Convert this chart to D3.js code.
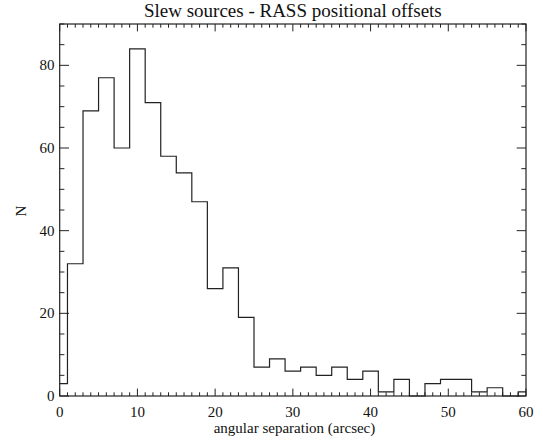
<!DOCTYPE html>
<html>
<head>
<meta charset="utf-8">
<script src="https://cdn.jsdelivr.net/npm/d3@7"></script>
</head>
<body style="margin:0;padding:0;background:#fff;">
<svg id="chart" width="543" height="442" style="display:block" font-family="Times New Roman, serif"></svg>
<script>
// Data: bin centres (arcsec, 2" bins) and counts
const binCenters = [0,2,4,6,8,10,12,14,16,18,20,22,24,26,28,30,32,34,36,38,40,42,44,46,48,50,52,54,56,58,60];
const counts     = [3,32,69,77,60,84,71,58,54,47,26,31,19,7,9,6,7,5,7,4,6,1,4,0,3,4,4,1,2,0,1];
const binWidth = 2;
const xTicks = [0,10,20,30,40,50,60];
const yTicks = [0,20,40,60,80];
const title = "Slew sources - RASS positional offsets";
const xLabel = "angular separation (arcsec)";
const yLabel = "N";

const svg = d3.select("#chart");
const L = 59.7, R = 526, T = 24, B = 396;
const x = d3.scaleLinear().domain([0, 60]).range([L, R]);
const y = d3.scaleLinear().domain([0, 90]).range([B, T]);
const ink = "#222";

// histogram step line
const pts = [];
binCenters.forEach((c, i) => {
  const x0 = Math.max(0, c - binWidth / 2), x1 = Math.min(60, c + binWidth / 2);
  pts.push([x0, counts[i]]);
  pts.push([x1, counts[i]]);
});
svg.append("path")
  .attr("d", d3.line().x(d => x(d[0])).y(d => y(d[1]))(pts))
  .attr("fill", "none").attr("stroke", ink).attr("stroke-width", 1.2);

// frame
svg.append("rect").attr("x", L).attr("y", T).attr("width", R - L).attr("height", B - T)
  .attr("fill", "none").attr("stroke", ink).attr("stroke-width", 1.2);

// ticks
const xMajLen = 7.4, xMinLen = 3.7, yMajLen = 9.3, yMinLen = 4.7;
const g = svg.append("g").attr("stroke", ink).attr("stroke-width", 1);
d3.range(0, 61, 1).forEach(v => {
  const len = v % 10 === 0 ? xMajLen : xMinLen;
  g.append("line").attr("x1", x(v)).attr("x2", x(v)).attr("y1", B).attr("y2", B - len);
  g.append("line").attr("x1", x(v)).attr("x2", x(v)).attr("y1", T).attr("y2", T + len);
});
d3.range(0, 91, 5).forEach(v => {
  const len = v % 20 === 0 ? yMajLen : yMinLen;
  g.append("line").attr("y1", y(v)).attr("y2", y(v)).attr("x1", L).attr("x2", L + len);
  g.append("line").attr("y1", y(v)).attr("y2", y(v)).attr("x1", R).attr("x2", R - len);
});

function addText(xp, yp, size, anchor, str, transform) {
  const t = svg.append("text")
    .attr("font-size", size)
    .attr("font-family", "Times New Roman")
    .style("font-family", "Times New Roman")
    .attr("fill", "#111").attr("text-anchor", anchor).text(str);
  if (transform) t.attr("transform", transform); else t.attr("x", xp).attr("y", yp);
  return t;
}

// tick labels
xTicks.forEach(d => addText(x(d), 416.5, 15, "middle", d));
yTicks.forEach(d => addText(54.5, y(d) + 5, 15, "end", d));

// titles
addText((L + R) / 2, 16.7, 19, "middle", title);
addText(294.5, 433, 15, "middle", xLabel);
addText(0, 0, 15, "middle", yLabel, "translate(26,211) rotate(-90)");
</script>
</body>
</html>
